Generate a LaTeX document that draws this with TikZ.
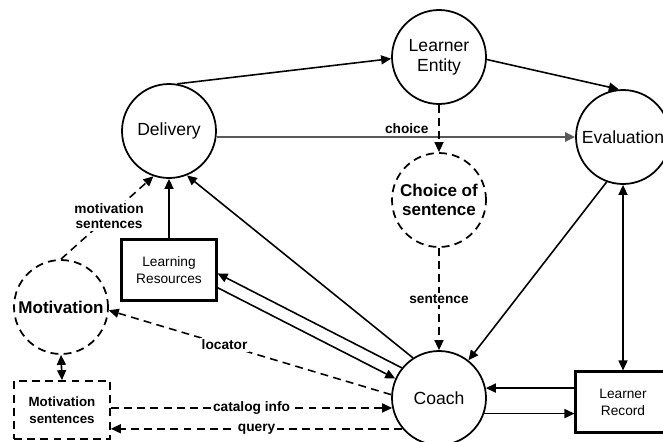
\documentclass[tikz,border=0pt]{standalone}
\usepackage{fontspec}
\setmainfont{Liberation Sans}
\usetikzlibrary{arrows.meta,positioning,calc,shapes}

\begin{document}
\begin{tikzpicture}[
  proc/.style={circle,draw,line width=1pt,minimum size=1.88cm,inner sep=0pt,align=center,font=\fontsize{10}{11.5}\selectfont},
  dproc/.style={proc,dash pattern=on 4.5pt off 3pt,font=\fontsize{9.7}{11}\selectfont\bfseries},
  store/.style={rectangle,draw,line width=1.2pt,minimum width=1.9cm,minimum height=1.22cm,inner sep=1pt,align=center,font=\fontsize{7.8}{9.5}\selectfont},
  dstore/.style={store,line width=1pt,dash pattern=on 4.5pt off 3pt,font=\fontsize{7.6}{9.5}\selectfont\bfseries},
  flow/.style={line width=0.9pt,-{Triangle[length=2mm,width=1.8mm]}},
  dflow/.style={flow,dash pattern=on 4.5pt off 3pt},
  lbl/.style={fill=white,inner sep=1pt,align=center,font=\fontsize{7.8}{9}\selectfont\bfseries}
]
  \useasboundingbox (0,0) rectangle (13.26,8.82);

  \node[proc] (learner) at (8.78, 7.68) {Learner\\Entity};
  \node[proc] (deliv) at (3.38, 6.20) {Delivery};
  \node[proc] (eval) at (12.46, 6.08) {Evaluation};
  \node[dproc] (choice) at (8.78, 4.82) {Choice of\\sentence};
  \node[proc] (coach) at (8.78, 0.86) {Coach};
  \node[store] (record) at (12.46, 0.78) {Learner\\Record};
  \node[store] (res) at (3.38, 3.42) {Learning\\Resources};
  \node[dproc] (motiv) at (1.22, 2.68) {Motivation};
  \node[dstore,minimum width=1.92cm,minimum height=1.16cm] (msent) at (1.24, 0.62) {Motivation\\sentences};

  \draw[flow] (deliv.80) -- (learner.182);
  \draw[flow] (learner.-3) -- (eval.95);
  \draw[flow,line width=1.5pt,black!65] (deliv.east |- eval.west) -- node[lbl,above,pos=0.53,fill=none,black] {choice} (eval.west);
  \draw[dflow] (learner.south) -- (choice.north);
  \draw[dflow] (choice.south) -- node[lbl] {sentence} (coach.north);
  \draw[flow] (eval.250) -- (coach.52);
  \draw[flow,{Triangle[length=2mm,width=1.8mm]}-{Triangle[length=2mm,width=1.8mm]}] (eval.south) -- (record.north);
  \draw[flow] (coach.12 -| record.west) -- (coach.12);
  \draw[flow] (coach.-19) -- (coach.-19 -| record.west);
  \draw[flow] (coach.123) -- (deliv.-68);
  \draw[flow] (res.north) -- (deliv.south);
  \draw[flow] (coach.141) -- (res.-4);
  \draw[flow] (res.-20) -- (coach.156);
  \draw[dflow] (coach.176) -- node[lbl,pos=0.59] {locator} (motiv.-4);
  \draw[dflow] (coach.192 -| msent.east) -- node[lbl] {catalog info} (coach.192);
  \draw[dflow] (coach.220) -- node[lbl] {query} (coach.220 -| msent.east);
  \draw[flow,{Triangle[length=2mm,width=1.8mm]}-{Triangle[length=2mm,width=1.8mm]}] (motiv.south) -- (msent.north);
  \draw[dflow] (motiv.north) -- node[lbl,pos=0.52] {motivation\\sentences} (deliv.251);
\end{tikzpicture}
\end{document}
